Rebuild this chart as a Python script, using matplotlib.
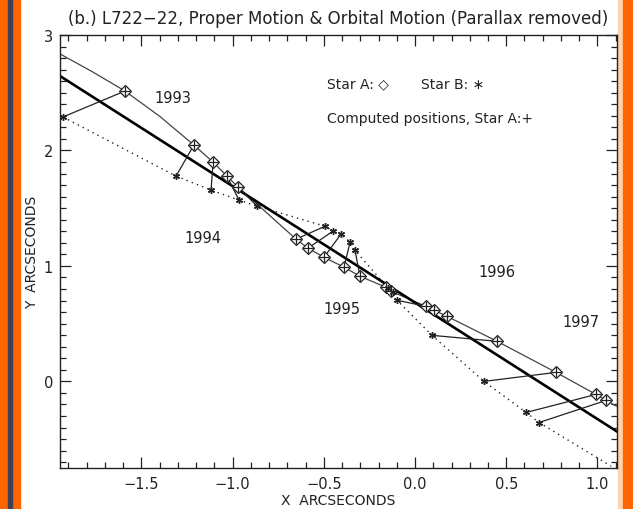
import numpy as np
import matplotlib.pyplot as plt
from matplotlib.patches import Rectangle
from matplotlib.ticker import MultipleLocator

# Star A observed positions (arcsec)
star_a_x = [-1.590, -1.212, -1.107, -1.031, -0.970, -0.652, -0.587, -0.499, -0.389, -0.302,
            -0.159, -0.132, 0.060, 0.104, 0.175, 0.450, 0.773, 0.992, 1.047]
star_a_y = [2.515, 2.047, 1.899, 1.778, 1.683, 1.232, 1.154, 1.075, 0.989, 0.911,
            0.815, 0.781, 0.650, 0.616, 0.564, 0.347, 0.078, -0.113, -0.165]

# Star B observed positions, paired with Star A by index (nan = no partner)
star_b_x = [-1.930, -1.310, -1.118, -0.965, -0.866, -0.493, -0.450, -0.406, -0.356, -0.329,
            -0.148, -0.121, -0.099, np.nan, np.nan, 0.093, 0.378, 0.609, 0.680]
star_b_y = [2.290, 1.778, 1.657, 1.570, 1.518, 1.344, 1.301, 1.275, 1.206, 1.136,
            0.807, 0.772, 0.703, np.nan, np.nan, 0.399, 0.000, -0.269, -0.356]

# computed orbit of Star A (thin curve)
orbit_x = [-1.946, -1.771, -1.590, -1.398, -1.212, -1.107, -1.031, -0.970, -0.811, -0.652,
           -0.587, -0.499, -0.389, -0.302, -0.159, -0.132, 0.060, 0.104, 0.175, 0.450,
           0.773, 0.992, 1.047, 1.107]
orbit_y = [2.836, 2.684, 2.515, 2.294, 2.047, 1.899, 1.778, 1.683, 1.457, 1.232,
           1.154, 1.075, 0.989, 0.911, 0.815, 0.781, 0.650, 0.616, 0.564, 0.347,
           0.078, -0.113, -0.165, -0.217]

# proper motion line (thick)
pm_x = [-1.946, 1.107]
pm_y = [2.645, -0.434]

# end of the dotted Star B track
b_track_end = (1.075, -0.735)

years = ["1993", "1994", "1995", "1996", "1997"]
year_x = [-1.33, -1.16, -0.40, 0.45, 0.91]
year_y = [2.46, 1.25, 0.63, 0.95, 0.52]

fig = plt.figure(figsize=(6.33, 5.10), dpi=100)
ax = fig.add_axes([0.0948, 0.0804, 0.8799, 0.849])

ink = "#222222"

# Star B dotted track
bx = [x for x in star_b_x if not np.isnan(x)] + [b_track_end[0]]
by = [y for y in star_b_y if not np.isnan(y)] + [b_track_end[1]]
ax.plot(bx, by, color=ink, lw=1.0, linestyle=(0, (1, 3)))

# orbit and proper motion
ax.plot(orbit_x, orbit_y, color="#444444", lw=0.9)
ax.plot(pm_x, pm_y, color="black", lw=1.9)

# connecting lines A -> B
for xa, ya, xb, yb in zip(star_a_x, star_a_y, star_b_x, star_b_y):
    if np.isnan(xb):
        continue
    ax.plot([xa, xb], [ya, yb], color=ink, lw=0.9)

ax.plot(star_a_x, star_a_y, linestyle="none", marker="D", markersize=6,
        markerfacecolor="white", markeredgecolor=ink, markeredgewidth=0.9)
ax.plot(star_a_x, star_a_y, linestyle="none", marker="+", markersize=7.5,
        color=ink, markeredgewidth=0.9)
ax.plot(star_b_x, star_b_y, linestyle="none", marker=(6, 2, 0), markersize=5,
        color=ink, markeredgewidth=1.0)

for label, x, y in zip(years, year_x, year_y):
    ax.text(x, y, label, ha="center", va="center", fontsize=10.5, color=ink)

ax.text(-0.48, 2.58, "Star A: \u25C7", fontsize=10, color=ink, va="center")
ax.text(0.03, 2.58, "Star B: \u2217", fontsize=10, color=ink, va="center")
ax.text(-0.48, 2.28, "Computed positions, Star A:+", fontsize=10, color=ink, va="center")

ax.set_xlim(-1.946, 1.107)
ax.set_ylim(-0.75, 3.0)
ax.xaxis.set_major_locator(MultipleLocator(0.5))
ax.xaxis.set_minor_locator(MultipleLocator(0.1))
ax.yaxis.set_major_locator(MultipleLocator(1))
ax.yaxis.set_minor_locator(MultipleLocator(0.1))
ax.set_xticks([-1.5, -1.0, -0.5, 0.0, 0.5, 1.0])
ax.set_xticklabels(["\u22121.5", "\u22121.0", "\u22120.5", "0.0", "0.5", "1.0"])
ax.set_yticks([0, 1, 2, 3])
ax.tick_params(which="both", direction="in", top=True, right=True, colors=ink,
               labelsize=10.5, width=0.9)
ax.tick_params(which="major", length=8)
ax.tick_params(axis="x", which="major", pad=6)
ax.tick_params(axis="y", which="major", pad=5)
ax.tick_params(which="minor", length=4)
for s in ax.spines.values():
    s.set_color(ink)
    s.set_linewidth(1.0)

ax.set_xlabel("X  ARCSECONDS", fontsize=10, color=ink, labelpad=1)
ax.set_ylabel("Y  ARCSECONDS", fontsize=10, color=ink, labelpad=3)
ax.set_title("(b.) L722\u221222, Proper Motion & Orbital Motion (Parallax removed)",
             fontsize=12, color=ink, pad=9)

# orange frame strips
fig.patches.append(Rectangle((0, 0), 20 / 633, 1, transform=fig.transFigure,
                             color="#ff6600", zorder=-1))
fig.patches.append(Rectangle((8 / 633, 0), 4 / 633, 1, transform=fig.transFigure,
                             color="#41405a", zorder=0))
fig.patches.append(Rectangle((618 / 633, 0), 5 / 633, 1, transform=fig.transFigure,
                             color="#ffd2b0", zorder=-1))
fig.patches.append(Rectangle((623 / 633, 0), 10 / 633, 1, transform=fig.transFigure,
                             color="#ff6600", zorder=-1))

fig.savefig("out.png", dpi=100)
